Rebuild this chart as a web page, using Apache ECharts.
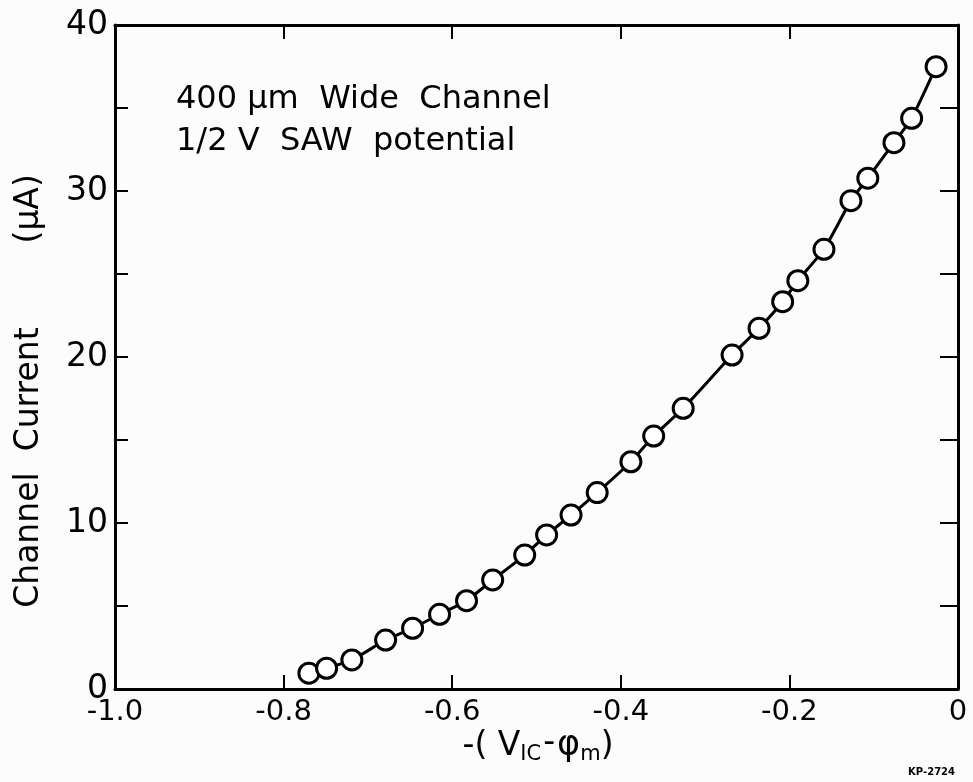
<!DOCTYPE html>
<html>
<head>
<meta charset="utf-8">
<script src="https://cdn.jsdelivr.net/npm/echarts@6/dist/echarts.min.js"></script>
<style>
html,body{margin:0;padding:0;background:#fff;}
#chart{width:973px;height:782px;}
</style>
</head>
<body>
<div id="chart"></div>
<script>
// Data
var xValues = [-0.770, -0.749, -0.719, -0.679, -0.647, -0.615, -0.583, -0.552, -0.514, -0.488, -0.459, -0.428, -0.388, -0.361, -0.326, -0.268, -0.236, -0.208, -0.190, -0.159, -0.127, -0.107, -0.076, -0.055, -0.026];
var currentValues = [0.95, 1.25, 1.75, 2.95, 3.66, 4.5, 5.32, 6.57, 8.07, 9.28, 10.48, 11.83, 13.69, 15.24, 16.91, 20.12, 21.73, 23.33, 24.6, 26.49, 29.42, 30.77, 32.91, 34.38, 37.49];
var xTickLabels = ['-1.0', '-0.8', '-0.6', '-0.4', '-0.2', '0'];
var yTickLabels = ['0', '10', '20', '30', '40'];
var annotationLines = ['400 \u03bcm  Wide  Channel', '1/2 V  SAW  potential'];
var yAxisTitle = 'Channel  Current        (\u03bcA)';
var figureCode = 'KP-2724';

var pts = xValues.map(function (x, i) { return [x, currentValues[i]]; });
var FONT = '"DejaVu Sans"';

var chart = echarts.init(document.getElementById('chart'), null, {renderer: 'canvas'});
var axisLineStyle = {color: '#000', width: 3};
var tickStyle = {color: '#000', width: 2};

chart.setOption({
  backgroundColor: '#fcfcfc',
  animation: false,
  grid: {left: 115, right: 15, top: 25, bottom: 93, containLabel: false},
  xAxis: [{
    type: 'value', min: -1, max: 0, interval: 0.2, position: 'bottom',
    axisLine: {show: true, onZero: false, lineStyle: axisLineStyle},
    axisTick: {show: true, inside: true, length: 14, lineStyle: tickStyle},
    splitLine: {show: false},
    axisLabel: {
      color: '#000', fontSize: 29, fontFamily: 'DejaVu Sans', margin: 9,
      formatter: function (v) { var idx = Math.round((v + 1) / 0.2); return xTickLabels[idx] || ''; }
    }
  }, {
    type: 'value', min: -1, max: 0, interval: 0.2, position: 'top',
    axisLine: {show: true, onZero: false, lineStyle: axisLineStyle},
    axisTick: {show: true, inside: true, length: 14, lineStyle: tickStyle},
    splitLine: {show: false}, axisLabel: {show: false}
  }],
  yAxis: [{
    type: 'value', min: 0, max: 40, interval: 5, position: 'left',
    axisLine: {show: true, onZero: false, lineStyle: axisLineStyle},
    axisTick: {show: true, inside: true, length: 13, lineStyle: tickStyle},
    splitLine: {show: false},
    axisLabel: {
      color: '#000', fontSize: 33, fontFamily: 'DejaVu Sans', margin: 7,
      formatter: function (v) { return (v % 10 === 0) ? yTickLabels[v / 10] : ''; }
    }
  }, {
    type: 'value', min: 0, max: 40, interval: 5, position: 'right',
    axisLine: {show: true, onZero: false, lineStyle: axisLineStyle},
    axisTick: {show: true, inside: true, length: 18, lineStyle: tickStyle},
    splitLine: {show: false}, axisLabel: {show: false}
  }],
  series: [{
    type: 'line',
    data: pts,
    smooth: 0.2,
    lineStyle: {color: '#000', width: 3},
    symbol: 'circle',
    symbolSize: 20,
    itemStyle: {color: '#fff', borderColor: '#000', borderWidth: 3},
    z: 3
  }],
  graphic: [
    {type: 'text', left: 176, top: 84, style: {text: annotationLines[0], font: '32px ' + FONT, fill: '#000'}},
    {type: 'text', left: 176, top: 126, style: {text: annotationLines[1], font: '32px ' + FONT, fill: '#000'}},
    {type: 'text', x: 29, y: 391, rotation: Math.PI / 2,
      style: {text: yAxisTitle, font: '33px ' + FONT, fill: '#000', align: 'center', verticalAlign: 'middle'}},
    {type: 'text', x: 538, y: 746,
      style: {
        text: '-( V{sub|IC}{mid|-}{phi|\u03c6}{sub|m})',
        align: 'center', verticalAlign: 'middle',
        font: '33px ' + FONT, fill: '#000',
        rich: {
          sub: {fontSize: 21, fontFamily: 'DejaVu Sans', fill: '#000', padding: [17, 0, 0, 0]},
          mid: {fontSize: 33, fontFamily: 'DejaVu Sans', fill: '#000', padding: [0, 2, 6, 2]},
          phi: {fontSize: 35, fontFamily: 'DejaVu Sans', fill: '#000'}
        }
      }},
    {type: 'text', right: 18, top: 767,
      style: {text: figureCode, font: 'bold 10px ' + FONT, fill: '#000'}}
  ]
});
</script>
</body>
</html>
